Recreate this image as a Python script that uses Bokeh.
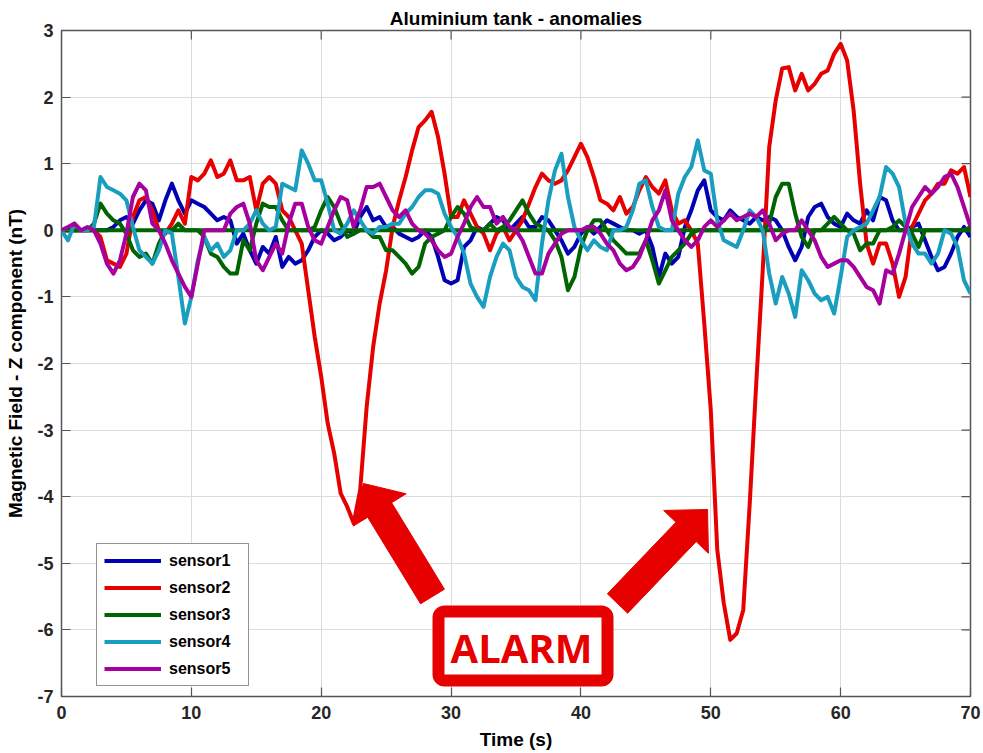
import numpy as np
from bokeh.plotting import figure
from bokeh.models import (Range1d, FixedTicker, Legend, LegendItem,
                          BoxAnnotation, Label)
from bokeh.embed import file_html
from bokeh.resources import INLINE

# ---- data: Z-component anomaly per sensor, sampled every 0.5 s ----
time_s = [i * 0.5 for i in range(141)]

sensor1 = [
    0, 0, 0, 0, 0, 0, 0, 0, 0.05, 0.15,
    0.2, 0.1, 0.3, 0.45, 0.4, 0.15, 0.45, 0.7, 0.45, 0.25,
    0.45, 0.4, 0.35, 0.25, 0.15, 0.2, 0.15, -0.2, -0.05, -0.3,
    -0.5, -0.25, -0.35, -0.1, -0.55, -0.4, -0.5, -0.45, -0.3, -0.1,
    0.0, -0.05, -0.15, -0.1, 0.0, -0.05, 0.2, 0.35, 0.15, 0.2,
    0.05, 0.05, -0.05, -0.1, -0.15, -0.1, 0.0, -0.1, -0.4, -0.75,
    -0.8, -0.75, -0.25, -0.15, 0.05, 0.0, 0.1, 0.2, 0.15, 0.0,
    0.1, 0.2, 0.05, 0.05, 0.2, 0.15, 0.0, -0.15, -0.35, -0.25,
    -0.05, 0.05, -0.05, 0.05, 0.15, 0.1, 0.05, 0.0, 0.0, -0.05,
    0.0, -0.25, -0.7, -0.35, -0.5, -0.4, 0.05, 0.3, 0.6, 0.75,
    0.3, 0.2, 0.15, 0.3, 0.2, 0.15, 0.1, 0.2, 0.15, 0.2,
    0.15, 0.0, -0.25, -0.45, -0.25, 0.2, 0.35, 0.4, 0.2, 0.1,
    0.05, 0.25, 0.15, 0.1, 0.3, 0.15, 0.5, 0.45, 0.15, 0.0,
    0.0, 0.05, 0.1, -0.15, -0.4, -0.6, -0.55, -0.35, -0.1, 0.05,
    -0.1,
]
sensor2 = [
    0, 0, 0, 0, 0, 0, -0.1, -0.45, -0.5, -0.55,
    -0.35, 0.2, 0.45, 0.5, 0.3, 0.0, -0.05, 0.1, 0.3, 0.1,
    0.8, 0.75, 0.85, 1.05, 0.8, 0.85, 1.05, 0.75, 0.75, 0.8,
    0.3, 0.7, 0.8, 0.7, 0.3, 0.2, 0.0, -0.2, -0.9, -1.6,
    -2.2, -2.9, -3.35, -3.95, -4.15, -4.4, -3.9, -2.65, -1.75, -1.1,
    -0.6, 0.05, 0.45, 0.8, 1.2, 1.55, 1.65, 1.78, 1.4, 0.85,
    0.2, 0.2, 0.45, 0.25, 0.05, -0.05, -0.3, -0.05, 0.05, -0.15,
    0.0, 0.15, 0.4, 0.65, 0.85, 0.75, 0.7, 0.75, 0.9, 1.1,
    1.3, 1.1, 0.8, 0.45, 0.4, 0.3, 0.5, 0.25, 0.35, 0.6,
    0.8, 0.65, 0.55, 0.75, 0.3, 0.1, 0.15, 0.0, -0.2, -1.4,
    -2.7, -4.8, -5.6, -6.15, -6.05, -5.7, -4.1, -2.3, -0.6, 1.25,
    1.95, 2.43, 2.45, 2.1, 2.35, 2.1, 2.2, 2.35, 2.4, 2.65,
    2.8, 2.55, 1.8, 0.7, -0.2, -0.5, -0.2, -0.2, -0.5, -1.0,
    -0.7, 0.05, 0.25, 0.45, 0.55, 0.7, 0.7, 0.9, 0.85, 0.95,
    0.5,
]
sensor3 = [
    0, 0, 0, 0, 0, 0.1, 0.4, 0.25, 0.15, 0.1,
    -0.05, -0.3, -0.4, -0.35, -0.5, -0.2, 0, 0, 0.1, 0,
    0, 0, -0.1, -0.35, -0.4, -0.55, -0.65, -0.65, -0.15, -0.3,
    0.1, 0.4, 0.35, 0.35, 0.15, 0, 0, 0, 0, 0.05,
    0.3, 0.5, 0.35, 0.1, -0.1, -0.05, 0, 0, -0.1, -0.1,
    -0.3, -0.3, -0.4, -0.5, -0.65, -0.55, -0.2, -0.1, -0.05, 0,
    0.2, 0.35, 0.25, 0.05, 0, 0, 0.1, 0, 0.05, 0.15,
    0.3, 0.45, 0.25, 0.1, 0.05, 0, -0.15, -0.4, -0.9, -0.7,
    -0.25, 0, 0.15, 0.15, 0, -0.15, -0.25, -0.35, -0.35, -0.35,
    -0.15, -0.45, -0.8, -0.6, -0.4, -0.3, -0.2, -0.05, 0, 0,
    0, 0, 0, 0, 0, 0, 0, 0, 0, 0.1,
    0.5, 0.7, 0.7, 0.25, -0.1, -0.25, 0, 0, 0.1, 0.2,
    0.1, 0, -0.05, -0.3, -0.2, -0.2, 0, 0, 0.05, 0.15,
    0.05, -0.05, -0.25, 0, 0, 0, 0, 0, 0, 0,
    0.05,
]
sensor4 = [
    0, -0.15, 0.1, 0, 0, 0.05, 0.8, 0.65, 0.6, 0.55,
    0.45, 0.05, -0.3, -0.4, -0.5, -0.3, 0, -0.05, -0.7, -1.4,
    -1.0, -0.45, -0.1, -0.3, -0.2, -0.4, -0.3, 0, 0, 0.1,
    0.3, 0.1, 0, 0.05, 0.7, 0.65, 0.6, 1.2, 1.0, 0.75,
    0.75, 0.4, 0, -0.05, 0.1, 0.3, 0.15, 0, -0.05, 0.05,
    0.05, 0.1, 0.1, 0.25, 0.35, 0.5, 0.6, 0.6, 0.55, 0.25,
    0.05, -0.1, -0.35, -0.8, -1.0, -1.15, -0.7, -0.4, -0.2, -0.3,
    -0.7, -0.85, -0.9, -1.05, -0.2, 0.45, 0.9, 1.15, 0.5, 0.05,
    -0.15, -0.3, -0.15, -0.25, -0.3, 0, 0, 0.05, 0.3, 0.7,
    0.75, 0.35, 0.05, 0, 0, 0.55, 0.8, 0.95, 1.35, 0.9,
    0.85, 0.15, -0.15, -0.2, -0.25, 0, 0.3, 0.2, 0, -0.65,
    -1.1, -0.7, -0.95, -1.3, -0.6, -0.75, -0.95, -1.05, -1.0, -1.25,
    -0.7, -0.1, 0, 0.05, 0.1, 0.3, 0.5, 0.95, 0.85, 0.65,
    0.1, -0.2, -0.35, -0.35, -0.5, -0.35, 0, -0.05, -0.25, -0.75,
    -0.95,
]
sensor5 = [
    0, 0.05, 0.1, 0, 0.05, 0, -0.2, -0.5, -0.65, -0.45,
    -0.05, 0.5, 0.7, 0.6, 0.1, 0, -0.2, -0.45, -0.65, -0.85,
    -1.0, -0.5, 0, 0, 0, 0, 0.25, 0.35, 0.4, 0.1,
    -0.45, -0.6, -0.4, -0.2, -0.35, 0.1, 0.4, 0.4, 0.05, -0.15,
    -0.2, 0.05, 0.3, 0.5, 0.45, 0.05, 0.3, 0.65, 0.65, 0.7,
    0.5, 0.3, 0.2, 0.3, 0.1, 0, -0.05, -0.15, -0.3, -0.4,
    -0.35, -0.1, 0.1, 0.35, 0.5, 0.35, 0.35, 0.1, 0.2, 0.05,
    0, -0.15, -0.4, -0.65, -0.65, -0.35, -0.2, -0.05, 0, 0,
    0, 0.05, 0.05, -0.05, -0.2, -0.3, -0.5, -0.6, -0.55, -0.4,
    -0.15, 0.15, 0.3, 0.6, 0.15, 0, -0.15, -0.25, -0.15, 0.05,
    0.15, 0.05, 0.15, 0.25, 0.15, 0.2, 0.25, 0.2, 0.3, 0.1,
    -0.15, -0.05, 0, 0, 0.15, 0, -0.15, -0.4, -0.55, -0.5,
    -0.45, -0.45, -0.55, -0.7, -0.85, -0.9, -1.1, -0.6, -0.65, -0.35,
    0, 0.35, 0.5, 0.65, 0.55, 0.65, 0.8, 0.85, 0.65, 0.35,
    0.05,
]
# flat zero reference trace that runs under the sensor3 curve
baseline_t = [0, 70]
baseline_v = [0, 0]

series_names = ["sensor1", "sensor2", "sensor3", "sensor4", "sensor5"]
series_colors = ["#0000B4", "#E60000", "#006400", "#1A9EC0", "#A6009F"]
x_ticks = [0, 10, 20, 30, 40, 50, 60, 70]
y_ticks = [-7, -6, -5, -4, -3, -2, -1, 0, 1, 2, 3]

# ---- frame geometry (screen px) used to place the callouts ----
FRAME_L, FRAME_T, FRAME_W, FRAME_H = 61, 30, 909, 666
X_MIN, X_MAX, Y_MIN, Y_MAX = 0, 70, -7, 3
PX_X = (X_MAX - X_MIN) / FRAME_W     # data units per screen px
PX_Y = (Y_MAX - Y_MIN) / FRAME_H


def to_data(px, py):
    return X_MIN + (px - FRAME_L) * PX_X, Y_MAX - (py - FRAME_T) * PX_Y


def block_arrow(tip, tail, shaft_half=14, head_half=31, head_len=31):
    tip = np.array(tip, float)
    tail = np.array(tail, float)
    u = (tip - tail) / np.linalg.norm(tip - tail)
    n = np.array([-u[1], u[0]])
    base = tip - u * head_len
    pts = [tail + n * shaft_half, base + n * shaft_half, base + n * head_half, tip,
           base - n * head_half, base - n * shaft_half, tail - n * shaft_half]
    xs, ys = zip(*[to_data(*pt) for pt in pts])
    return list(xs), list(ys)


FONT = "Liberation Sans"
TEXT = "#262626"
AXIS = "#555555"
ALARM_RED = "#E60000"
TICK_LEN = 9

p = figure(frame_width=FRAME_W, frame_height=FRAME_H,
           x_range=Range1d(X_MIN, X_MAX), y_range=Range1d(Y_MIN, Y_MAX),
           output_backend="svg", toolbar_location=None,
           min_border_left=FRAME_L, min_border_top=FRAME_T,
           min_border_right=13, min_border_bottom=57,
           background_fill_color="white", border_fill_color="white")

p.title.text = "Aluminium tank - anomalies"
p.title.align = "center"
p.title.text_font = FONT
p.title.text_font_size = "19px"
p.title.text_font_style = "bold"
p.title.text_color = "black"
p.title.standoff = 4

p.outline_line_color = AXIS
p.outline_line_width = 1.5
p.xgrid.grid_line_color = "#DCDCDC"
p.ygrid.grid_line_color = "#DCDCDC"
p.xgrid.ticker = FixedTicker(ticks=x_ticks)
p.ygrid.ticker = FixedTicker(ticks=y_ticks)

for ax, ticks in [(p.xaxis[0], x_ticks), (p.yaxis[0], y_ticks)]:
    ax.ticker = FixedTicker(ticks=ticks)
    ax.major_label_overrides = {t: str(t) for t in ticks}
    ax.axis_line_color = None
    ax.major_tick_in = TICK_LEN
    ax.major_tick_out = 0
    ax.minor_tick_in = 0
    ax.minor_tick_out = 0
    ax.major_tick_line_color = AXIS
    ax.major_tick_line_width = 1.2
    ax.major_label_text_font = FONT
    ax.major_label_text_font_size = "18px"
    ax.major_label_text_font_style = "bold"
    ax.major_label_text_color = TEXT
    ax.axis_label_text_font = FONT
    ax.axis_label_text_font_size = "19px"
    ax.axis_label_text_font_style = "bold"
    ax.axis_label_text_color = "black"

p.xaxis.axis_label = "Time (s)"
p.yaxis.axis_label = "Magnetic Field - Z component (nT)"
p.xaxis.major_label_standoff = 9
p.yaxis.major_label_standoff = 8
p.xaxis.axis_label_standoff = 7
p.yaxis.axis_label_standoff = 8

# inward tick marks on the top and right edges of the box
p.segment(x0=x_ticks, y0=[Y_MAX] * len(x_ticks), x1=x_ticks,
          y1=[Y_MAX - TICK_LEN * PX_Y] * len(x_ticks),
          line_color=AXIS, line_width=1.2)
p.segment(x0=[X_MAX] * len(y_ticks), y0=y_ticks,
          x1=[X_MAX - TICK_LEN * PX_X] * len(y_ticks), y1=y_ticks,
          line_color=AXIS, line_width=1.2)

# ---- sensor traces (drawn in legend order; zero trace sits with sensor3) ----
renderers = []
for name, color, vals in zip(series_names, series_colors,
                             [sensor1, sensor2, sensor3, sensor4, sensor5]):
    if name == "sensor3":
        p.line(baseline_t, baseline_v, line_color=color, line_width=4)
    r = p.line(time_s, vals, line_color=color, line_width=4,
               line_join="round")
    renderers.append(r)

legend = Legend(items=[LegendItem(label=n, renderers=[r])
                       for n, r in zip(series_names, renderers)],
                location=(35, 10))
legend.label_text_font = FONT
legend.label_text_font_size = "16px"
legend.label_text_font_style = "bold"
legend.label_text_color = "black"
legend.glyph_width = 57
legend.glyph_height = 19
legend.label_height = 19
legend.label_width = 72
legend.label_standoff = 8
legend.spacing = 8
legend.padding = 7
legend.margin = 0
legend.border_line_color = "#262626"
legend.border_line_width = 1
legend.background_fill_alpha = 1.0
p.add_layout(legend)

# ---- ALARM callout ----
for tip, tail in [((363, 483), (432, 596)), ((707, 509), (617, 603))]:
    ax_, ay_ = block_arrow(tip, tail)
    p.patch(ax_, ay_, fill_color=ALARM_RED, line_color=ALARM_RED, line_width=1)

bx0, by0 = to_data(438, 680)
bx1, by1 = to_data(607, 611)
p.add_layout(BoxAnnotation(left=bx0, right=bx1, bottom=by0, top=by1,
                           fill_color="white", fill_alpha=1.0,
                           line_color=ALARM_RED, line_width=12, line_alpha=1.0,
                           border_radius=6, level="overlay"))
lx, ly = to_data(521, 647)
p.add_layout(Label(x=lx, y=ly, text="ALARM", text_font="Open Sans",
                   text_font_style="bold", text_font_size="40px",
                   text_color=ALARM_RED, text_align="center",
                   text_baseline="middle", level="overlay"))

open("out.html", "w").write(file_html(p, INLINE))
